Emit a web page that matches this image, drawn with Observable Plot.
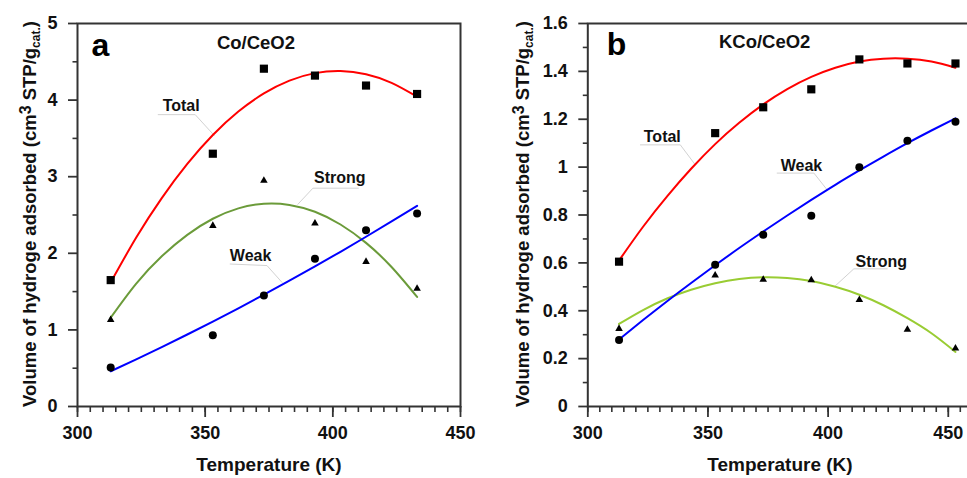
<!DOCTYPE html>
<html>
<head>
<meta charset="utf-8">
<script src="https://cdn.jsdelivr.net/npm/d3@7"></script>
<script src="https://cdn.jsdelivr.net/npm/@observablehq/plot@0.6"></script>
<style>
  html, body { margin: 0; padding: 0; background: #fff; overflow: hidden; }
  #wrap { position: relative; width: 967px; height: 478px; overflow: hidden; }
  #pa, #pb { position: absolute; top: 0; }
  #pa { left: 0; width: 480px; }
  #pb { left: 480px; width: 500px; }
  #wrap svg { max-width: none !important; }
  svg text { font-family: "Liberation Sans", Arial, sans-serif; }
</style>
</head>
<body>
<div id="wrap"><div id="pa"></div><div id="pb"></div></div>
<script>
// ---------- Panel a: Co/CeO2 ----------
const temps_a = [313, 353, 373, 393, 413, 433];
const total_a = [1.65, 3.30, 4.41, 4.32, 4.19, 4.08];
const strong_a = [1.13, 2.36, 2.95, 2.39, 1.89, 1.54];
const weak_a = [0.51, 0.93, 1.45, 1.93, 2.30, 2.52];
// fitted curves
const fitT_a = [313, 323, 333, 343, 353, 363, 373, 383, 393, 403, 413, 423, 433];
const fitTotal_a = [1.620, 2.206, 2.721, 3.167, 3.544, 3.850, 4.087, 4.254, 4.352, 4.380, 4.338, 4.226, 4.045];
const fitStrong_a = [1.160, 1.605, 1.961, 2.241, 2.451, 2.587, 2.647, 2.632, 2.542, 2.376, 2.136, 1.821, 1.430];
const fitWeak_a = [0.460, 0.616, 0.776, 0.940, 1.109, 1.282, 1.460, 1.642, 1.829, 2.020, 2.216, 2.416, 2.620];
const yTicks_a = [0, 1, 2, 3, 4, 5];
const yMinor_a = [0.5, 1.5, 2.5, 3.5, 4.5];

// ---------- Panel b: KCo/CeO2 ----------
const temps_b = [313, 353, 373, 393, 413, 433, 453];
const total_b = [0.605, 1.142, 1.25, 1.325, 1.45, 1.433, 1.433];
const weak_b = [0.278, 0.592, 0.717, 0.797, 1.0, 1.11, 1.19];
const strong_b = [0.325, 0.548, 0.53, 0.528, 0.446, 0.321, 0.243];
const fitT_b = [313, 323, 333, 343, 353, 363, 373, 383, 393, 403, 413, 423, 433, 443, 453];
const fitTotal_b = [0.610, 0.751, 0.878, 0.993, 1.096, 1.185, 1.262, 1.326, 1.377, 1.415, 1.441, 1.453, 1.453, 1.441, 1.415];
const fitWeak_b = [0.280, 0.361, 0.440, 0.516, 0.590, 0.662, 0.731, 0.798, 0.863, 0.926, 0.986, 1.044, 1.100, 1.153, 1.204];
const fitStrong_b = [0.345, 0.403, 0.451, 0.488, 0.515, 0.533, 0.540, 0.537, 0.524, 0.500, 0.467, 0.423, 0.369, 0.306, 0.228];
const yTicks_b = [0, 0.2, 0.4, 0.6, 0.8, 1, 1.2, 1.4, 1.6];
const yMinor_b = [0.1, 0.3, 0.5, 0.7, 0.9, 1.1, 1.3, 1.5];

const xTicks = [300, 350, 400, 450];
const xLabel = "Temperature (K)";

const FONT = "Liberation Sans, Arial, sans-serif";
const AX = "#333";

function rows(xs, ys) { return xs.map((x, i) => ({x, y: ys[i]})); }

function panel(opt) {
  const svg = Plot.plot({
    width: opt.width, height: 478,
    marginLeft: opt.marginLeft, marginRight: opt.marginRight,
    marginTop: 23, marginBottom: 72,
    x: {domain: opt.xDomain},
    y: {domain: opt.yDomain},
    style: {fontFamily: FONT, fontWeight: "bold", color: "#111", background: "transparent", overflow: "visible", maxWidth: "none"},
    marks: [
      Plot.axisX({ticks: d3.range(300, opt.xDomain[1] + 0.1, 5), tickSize: 6, tickFormat: () => "", label: null, stroke: AX, strokeWidth: 1.6}),
      Plot.axisX({ticks: xTicks, tickSize: 11, tickPadding: 9, fontSize: 18, label: null, stroke: AX, strokeWidth: 1.8}),
      Plot.axisY({ticks: opt.yMinor, tickSize: 4.5, tickFormat: () => "", label: null, stroke: AX, strokeWidth: 1.6}),
      Plot.axisY({ticks: opt.yTicks, tickSize: 9, tickPadding: 11, fontSize: 18, tickFormat: d => String(d), label: null, stroke: AX, strokeWidth: 1.8}),
      Plot.frame({stroke: AX, strokeWidth: 2}),
      Plot.line(opt.leaders, {x: "x", y: "y", z: "id", stroke: "#d2d2d2", strokeWidth: 1}),
      Plot.line(rows(opt.fitT, opt.fitTotal), {x: "x", y: "y", stroke: "#ff0000", strokeWidth: 2, curve: "natural"}),
      Plot.line(rows(opt.fitT, opt.fitStrong), {x: "x", y: "y", stroke: opt.green, strokeWidth: 2, curve: "natural"}),
      Plot.line(rows(opt.fitT, opt.fitWeak), {x: "x", y: "y", stroke: "#0000ff", strokeWidth: 2, curve: "natural"}),
      Plot.dot(rows(opt.temps, opt.total), {x: "x", y: "y", symbol: "square", r: 4.6, fill: "#000", stroke: "none"}),
      Plot.dot(rows(opt.temps, opt.weak), {x: "x", y: "y", symbol: "circle", r: 4, fill: "#000", stroke: "none"}),
      Plot.dot(rows(opt.temps, opt.strong), {x: "x", y: "y", symbol: "triangle", r: 2.8, fill: "#000", stroke: "none"}),
      Plot.text(opt.labels, {x: "x", y: "y", text: "t", fontSize: 16, fill: "#111", fontWeight: "bold"}),
      Plot.text([opt.title], {x: "x", y: "y", text: "t", fontSize: 18.5, fill: "#111", fontWeight: "bold"}),
      Plot.text([opt.letter], {x: "x", y: "y", text: "t", fontSize: 32, fill: "#000", fontWeight: "bold"})
    ]
  });
  const s = d3.select(svg);
  // y axis title with superscript and subscript
  const yt = s.append("text")
    .attr("transform", `translate(${opt.yLabelX},214) rotate(-90)`)
    .attr("text-anchor", "middle")
    .attr("font-family", FONT).attr("font-weight", "bold").attr("font-size", 18.5).attr("fill", "#111");
  yt.append("tspan").text("Volume of hydroge adsorbed (cm");
  yt.append("tspan").attr("dy", -5).attr("font-size", 16).text("3");
  yt.append("tspan").attr("dy", 5).text(" STP/g");
  yt.append("tspan").attr("dy", 4).attr("font-size", 12).text("cat.");
  yt.append("tspan").attr("dy", -4).text(")");
  // x axis title
  s.append("text")
    .attr("x", opt.xLabelX).attr("y", 471)
    .attr("text-anchor", "middle")
    .attr("font-family", FONT).attr("font-weight", "bold").attr("font-size", 19).attr("fill", "#111")
    .text(xLabel);
  return svg;
}

const svgA = panel({
  width: 480, marginLeft: 77, marginRight: 20,
  xDomain: [300, 450], yDomain: [0, 5],
  yTicks: yTicks_a, yMinor: yMinor_a,
  temps: temps_a, total: total_a, strong: strong_a, weak: weak_a,
  fitT: fitT_a, fitTotal: fitTotal_a, fitStrong: fitStrong_a, fitWeak: fitWeak_a,
  green: "#6b9b3a",
  labels: [
    {x: 340.6, y: 3.93, t: "Total"},
    {x: 402.7, y: 2.98, t: "Strong"},
    {x: 367.8, y: 1.97, t: "Weak"}
  ],
  leaders: [
    {id: "t", x: 331.6, y: 3.81}, {id: "t", x: 346.1, y: 3.81}, {id: "t", x: 353.5, y: 3.54},
    {id: "s", x: 410, y: 2.85}, {id: "s", x: 392.2, y: 2.85}, {id: "s", x: 386.3, y: 2.64},
    {id: "w", x: 359.8, y: 1.86}, {id: "w", x: 374.2, y: 1.84}, {id: "w", x: 380.1, y: 1.62}
  ],
  title: {x: 369.9, y: 4.75, t: "Co/CeO2"},
  letter: {x: 309, y: 4.71, t: "a"},
  yLabelX: 36, xLabelX: 269
});
document.getElementById("pa").appendChild(svgA);

const svgB = panel({
  width: 500, marginLeft: 107.3, marginRight: 8.2,
  xDomain: [300, 460], yDomain: [0, 1.6],
  yTicks: yTicks_b, yMinor: yMinor_b,
  temps: temps_b, total: total_b, strong: strong_b, weak: weak_b,
  fitT: fitT_b, fitTotal: fitTotal_b, fitStrong: fitStrong_b, fitWeak: fitWeak_b,
  green: "#99cc33",
  labels: [
    {x: 331.0, y: 1.126, t: "Total"},
    {x: 388.9, y: 1.005, t: "Weak"},
    {x: 422.1, y: 0.605, t: "Strong"}
  ],
  leaders: [
    {id: "t", x: 321.9, y: 1.093}, {id: "t", x: 338.5, y: 1.093}, {id: "t", x: 344.4, y: 1.014},
    {id: "w", x: 378.8, y: 0.975}, {id: "w", x: 394.1, y: 0.975}, {id: "w", x: 399.6, y: 0.905},
    {id: "s", x: 424.6, y: 0.575}, {id: "s", x: 410.7, y: 0.575}, {id: "s", x: 403.1, y: 0.505}
  ],
  title: {x: 373.6, y: 1.522, t: "KCo/CeO2"},
  letter: {x: 311.9, y: 1.512, t: "b"},
  yLabelX: 49, xLabelX: 300
});
document.getElementById("pb").appendChild(svgB);
</script>
</body>
</html>
